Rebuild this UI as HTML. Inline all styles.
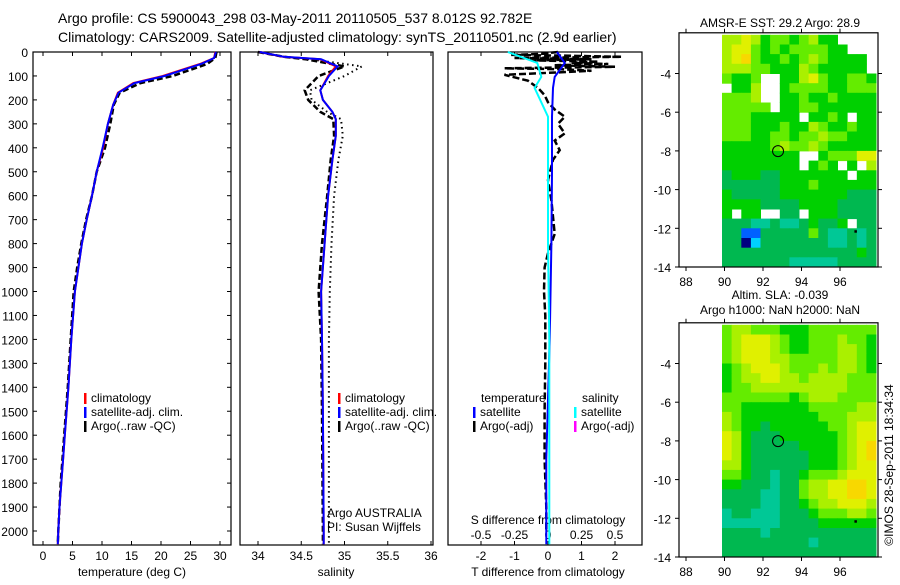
<!DOCTYPE html>
<html><head><meta charset="utf-8"><style>
html,body{margin:0;padding:0;background:#fff;}
svg text{font-family:"Liberation Sans",sans-serif;fill:#000;}
</style></head><body>
<svg id="chart" width="900" height="580" viewBox="0 0 900 580" xmlns="http://www.w3.org/2000/svg">
<rect width="900" height="580" fill="#fff"/>
<text x="58" y="23" font-size="14">Argo profile: CS 5900043_298 03-May-2011 20110505_537 8.012S 92.782E</text>
<text x="58" y="42" font-size="14">Climatology: CARS2009. Satellite-adjusted climatology: synTS_20110501.nc (2.9d earlier)</text>
<g id="g"></g>
</svg>
<script>
// ---------- profile data ----------
const tempDepths=[0,25,50,100,130,170,220,300,400,500,600,700,800,900,1000,1200,1400,1500,1600,1700,1800,1900,2000,2055];
const tempClim=[29.2,29.0,26.6,20.3,15.3,12.7,11.9,11.0,10.2,9.1,8.3,7.4,6.6,6.0,5.4,4.8,4.3,4.0,3.7,3.4,3.1,2.8,2.6,2.5];
const tempSat=[29.3,29.0,26.8,20.6,15.5,12.8,11.9,11.0,10.1,9.1,8.3,7.4,6.6,6.0,5.4,4.8,4.3,4.0,3.7,3.4,3.1,2.8,2.6,2.5];
const tempArgo=[29.4,29.2,27.8,22.0,16.5,13.0,12.0,11.4,10.5,9.1,8.3,7.3,6.5,5.8,5.2,4.7,4.2,3.9,3.6,3.3,3.0,2.8,2.6,2.5];
const salDepths=[0,20,30,60,100,160,200,250,280,350,450,600,800,1000,1200,1500,2000,2055];
const salClim=[34.02,34.29,34.72,34.9,34.81,34.72,34.75,34.86,34.9,34.9,34.86,34.81,34.77,34.73,34.74,34.75,34.76,34.76];
const salSat=[34.02,34.30,34.73,34.92,34.82,34.72,34.75,34.86,34.90,34.90,34.86,34.81,34.77,34.73,34.74,34.75,34.76,34.76];
const salArgo=[34.0,34.3,34.55,35.0,34.7,34.54,34.58,34.72,34.87,34.88,34.84,34.8,34.74,34.70,34.73,34.74,34.75,34.75];
const salArgoQC=[34.0,34.3,34.6,35.2,35.0,34.6,34.62,34.8,34.96,34.98,34.93,34.88,34.85,34.83,34.82,34.82,34.82,34.82];
const diffDepths=[0,8,12,15,20,25,30,35,40,45,50,55,62,68,72,78,85,95,120,150,180,210,240,270,300,340,370,410,450,535,620,760,840,900,1000,1100,1300,1500,1700,1900,2000];
const diffTArgo=[0.3,-0.2,-1.1,0.4,2.2,-1.0,1.3,-0.5,1.5,0.7,1.8,0.2,2.0,-1.3,0.4,1.3,0.3,-1.3,-0.6,-0.3,-0.1,0,0.2,0.5,0.3,0.5,0.2,0.35,0.15,0,0.1,0.2,0,-0.1,-0.12,-0.08,-0.08,-0.1,-0.1,-0.05,-0.05];
const satDepths=[0,46,104,150,270,500,800,1200,1700,2055];
const diffTSat=[0.27,0.5,0.2,0.15,0.12,0.12,0.1,0.05,-0.05,-0.05];
const diffSSat=[-0.3,-0.08,-0.05,-0.1,0,0,0,0.01,0.01,0.01];
const depthTicks=[0,100,200,300,400,500,600,700,800,900,1000,1100,1200,1300,1400,1500,1600,1700,1800,1900,2000];
const tempTicks=[0,5,10,15,20,25,30];
const salTicks=[34,34.5,35,35.5,36];
const tdTicks=[-2,-1,0,1,2];
const sdTicks=[-0.5,-0.25,0,0.25,0.5];
// ---------- map data (0.5 deg cells, lon 90..98, lat -2..-14) ----------
const sstRows=[
"778756656755....","7886565666655...","789655656765555.","777665557655555.",
"6556..5578655665",".557..5666655666","6667..5565565555","66666.5566555555",
"66655555.5565.55","6665556557655655","6665566566766555","5555567667655555",
"55555555..566688","55555555.565.5.7","4555445555555.55","4444445556555555",
"5444445555555444","5555444455554444","5.55..44.5554444","4443343345445.44",
"4411444446433434","4402444444433434","4444444444444454","4444444333334444"];
const slaRows=[
"6776665556666666","6788876556667665","6788876556667765","6788877666667765",
"5678887666767765","5677887767777666","5667777777777666","6666666567776666",
"6655555556666677","7655555555666777","7655455555566788","8754445555556788",
"8754444455556789","8754444445556789","7754444445556788","6654434456667888",
"5544434467788998","4444334467788998","4444334456778887","3443334445666776",
"3333334444555555","4444344444444444","4444444443444444","4444444444444444"];
const lonTicks=[88,90,92,94,96];
const latTicks=[-4,-6,-8,-10,-12,-14];
const argoLon=92.782, argoLat=-8.012;

const NS="http://www.w3.org/2000/svg";
const G=document.getElementById('g');
function el(tag,attrs,parent){const e=document.createElementNS(NS,tag);for(const k in attrs)e.setAttribute(k,attrs[k]);(parent||G).appendChild(e);return e;}
function txt(s,x,y,anchor,size,parent){const t=el('text',{x:x,y:y,'text-anchor':anchor||'start','font-size':size||12},parent);t.textContent=s;return t;}

const PT=52, PB=545;
const yD=d=>PT+d*0.2395;
const xT=t=>43+t*5.9;
const xS=s=>258+(s-34)*86.5;
const xTD=v=>548+v*33.5;
const xSD=v=>548+v*134;

function line(xs,ds,fx,color,dash,w,name){
  const pts=xs.map((v,i)=>fx(v).toFixed(1)+','+yD(ds[i]).toFixed(1)).join(' ');
  const p=el('polyline',{points:pts,fill:'none',stroke:color,'stroke-width':w||2});
  if(dash)p.setAttribute('stroke-dasharray',dash);
  
  
  return p;
}
function panel(x0,x1,name){
  const g=el('g',{});
  
  
  const r=el('rect',{x:x0,y:PT,width:x1-x0,height:PB-PT,fill:'none',stroke:'#000','stroke-width':1.2},g);
  
  
  return g;
}
function xticks(g,ticks,fx,labelY){
  ticks.forEach(t=>{const x=fx(t);
    el('line',{x1:x,x2:x,y1:PT,y2:PT+4,stroke:'#000'},g);
    el('line',{x1:x,x2:x,y1:PB,y2:PB-4,stroke:'#000'},g);
    if(labelY){const l=txt(String(t),x,labelY,'middle',12,g);
      
      }
  });
}
function legend(g,x,y,items,name){
  items.forEach((it,i)=>{
    const yy=y+i*14;
    el('rect',{x:x,y:yy-9,width:2.5,height:11,fill:it[0]},g);
    const t=txt(it[1],x+7,yy,'start',12,g);
    
    
  });
}

// Panel 1 temperature
const g1=panel(33,231,'temperature-panel');
depthTicks.forEach(d=>{const y=yD(d);
  el('line',{x1:33,x2:37,y1:y,y2:y,stroke:'#000'},g1);
  el('line',{x1:231,x2:227,y1:y,y2:y,stroke:'#000'},g1);
  const l=txt(String(d),28,y+5,'end',12,g1);
  
  
});
xticks(g1,tempTicks,xT,560);
const xl1=txt('temperature (deg C)',132,576,'middle',12,g1);

line(tempArgo,tempDepths,xT,'#000','6,3',2.5,'temp-argo-line');
line(tempClim,tempDepths,xT,'#f00',null,2,'temp-climatology-line');
line(tempSat,tempDepths,xT,'#00f',null,2,'temp-satellite-line');
legend(g1,84,402,[['#f00','climatology'],['#00f','satellite-adj. clim.'],['#000','Argo(..raw -QC)']],'temp-legend');

// Panel 2 salinity
const g2=panel(240,433,'salinity-panel');
xticks(g2,salTicks,xS,560);
const xl2=txt('salinity',336,576,'middle',12,g2);

line(salArgoQC,salDepths,xS,'#000','1.5,3.5',2,'sal-argo-qc-line');
line(salArgo,salDepths,xS,'#000','6,3',2.5,'sal-argo-line');
line(salClim,salDepths,xS,'#f00',null,2,'sal-climatology-line');
line(salSat,salDepths,xS,'#00f',null,2,'sal-satellite-line');
legend(g2,338,402,[['#f00','climatology'],['#00f','satellite-adj. clim.'],['#000','Argo(..raw -QC)']],'sal-legend');
const a1=txt('Argo AUSTRALIA',327,517,'start',12,g2);
const a2=txt('PI: Susan Wijffels',327,531,'start',12,g2);

// Panel 3 differences
const g3=panel(448,642,'difference-panel');
xticks(g3,tdTicks,xTD,560);
sdTicks.forEach(t=>{const l=txt(String(t),xSD(t),539,'middle',12,g3);
  });
const sl=txt('S difference from climatology',548,524,'middle',12,g3);
const xl3=txt('T difference from climatology',548,576,'middle',12,g3);
line(diffTArgo,diffDepths,xTD,'#000','7,3',2.5,'t-diff-argo-line');
line(diffTSat,satDepths,xTD,'#00f',null,2,'t-diff-satellite-line');
line(diffSSat,satDepths,xSD,'#0ff',null,2,'s-diff-satellite-line');
const lt=txt('temperature',481,402,'start',12,g3);
const ls=txt('salinity',582,402,'start',12,g3);
legend(g3,473,416,[['#00f','satellite'],['#000','Argo(-adj)']],'tdiff-legend');
legend(g3,574,416,[['#0ff','satellite'],['#f0f','Argo(-adj)']],'sdiff-legend');

// ---------- maps ----------
const stops=[[0,[0,0,128]],[1,[0,96,255]],[2,[0,208,255]],[3,[0,200,150]],[4,[0,184,80]],[5,[0,208,0]],[6,[100,236,0]],[7,[170,240,0]],[8,[224,240,0]],[9,[248,216,0]]];
function cmap(v){const c=stops[Math.max(0,Math.min(9,Math.round(v)))][1];return 'rgb('+c.join(',')+')';}
function map(rows,yBottom,name,title1,title2){
  const mx=lo=>686+(lo-88)*19.25;
  const my=la=>yBottom-(la+14)*19.35;
  const g=el('g',{});
  
  
  const top=my(-2)-1;
  rows.forEach((row,r)=>{
    for(let c=0;c<row.length && c<16;c++){
      const ch=row[c]; if(ch==='.'||ch===' ')continue;
      const lo=90+c*0.5, la=-2-r*0.5;
      const x0=mx(lo)-2.5, y0=my(la);
      const cell=el('rect',{x:x0.toFixed(1),y:y0.toFixed(1),width:(mx(lo+0.5)-mx(lo)+0.5).toFixed(1),height:(my(la-0.5)-my(la)+0.5).toFixed(1),fill:cmap(+ch)},g);
      
      
    }
  });
  const fr=el('rect',{x:679,y:top-1,width:199,height:yBottom-top+1,fill:'none',stroke:'#000','stroke-width':1.2},g);
  
  lonTicks.forEach(lo=>{const x=mx(lo);
    el('line',{x1:x,x2:x,y1:top-1,y2:top-5,stroke:'#000'},g);
    el('line',{x1:x,x2:x,y1:yBottom,y2:yBottom+4,stroke:'#000'},g);
    const l=txt(String(lo),x,yBottom+19,'middle',12,g);});
  latTicks.forEach(la=>{const y=my(la);
    el('line',{x1:679,x2:675,y1:y,y2:y,stroke:'#000'},g);
    el('line',{x1:878,x2:882,y1:y,y2:y,stroke:'#000'},g);
    const l=txt(String(la),671,y+5,'end',12,g);});
  const circ=el('circle',{cx:mx(argoLon),cy:my(argoLat),r:5.5,fill:'none',stroke:'#000','stroke-width':1},g);
  
  el('rect',{x:mx(96.8)-1,y:my(-12.15)-1,width:2.5,height:2.5,fill:'#000'},g);
  const t1=txt(title1,780,title2?yBottom-258:27,'middle',12,g);
  if(title2){const t2=txt(title2,780,yBottom-243,'middle',12,g);}
}
map(sstRows,267,'sst-map','AMSR-E SST: 29.2 Argo: 28.9');
map(slaRows,557,'sla-map','Altim. SLA: -0.039','Argo h1000: NaN h2000: NaN');
const cr=txt('©IMOS 28-Sep-2011 18:34:34',0,0,'middle',12);
cr.setAttribute('transform','translate(893,465) rotate(-90)');


</script>
</body></html>
